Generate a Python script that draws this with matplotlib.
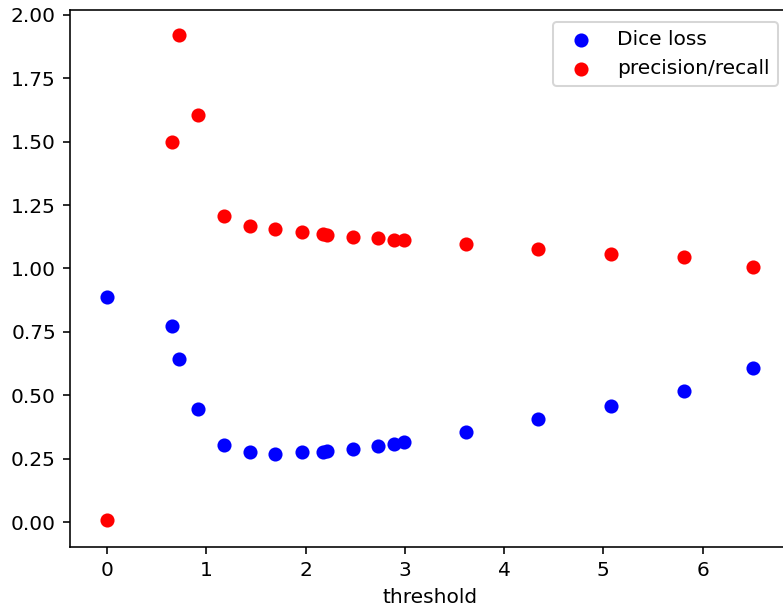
import matplotlib
matplotlib.use('Agg')
import matplotlib.pyplot as plt

threshold = [0.0, 0.655, 0.726, 0.917, 1.18, 1.44, 1.69, 1.96, 2.18, 2.22,
             2.48, 2.73, 2.89, 2.99, 3.62, 4.34, 5.08, 5.81, 6.51]
dice_loss = [0.888, 0.773, 0.643, 0.446, 0.304, 0.276, 0.268, 0.276, 0.278, 0.282,
             0.288, 0.298, 0.308, 0.316, 0.355, 0.406, 0.458, 0.517, 0.607]
prec_recall = [0.008, 1.50, 1.92, 1.605, 1.207, 1.168, 1.156, 1.144, 1.136, 1.132,
               1.124, 1.12, 1.114, 1.113, 1.097, 1.077, 1.057, 1.045, 1.006]

DPI = 145
fig = plt.figure(figsize=(783 / DPI, 610 / DPI), dpi=DPI)
# axes runs a little past the right edge, like the cropped original
ax = fig.add_axes([70 / 783, 63 / 610, 720 / 783, 537 / 610])
ax.scatter(threshold, dice_loss, color='blue', label='Dice loss')
ax.scatter(threshold, prec_recall, color='red', label='precision/recall')
ax.set_xlim(-0.373, 6.88)
ax.set_ylim(-0.0986, 2.0197)
ax.set_xlabel('threshold')
ax.legend(loc='upper right', bbox_to_anchor=(788 / 783, 1 - 12 / 610),
          bbox_transform=fig.transFigure)
fig.savefig('out.png', dpi=DPI)
